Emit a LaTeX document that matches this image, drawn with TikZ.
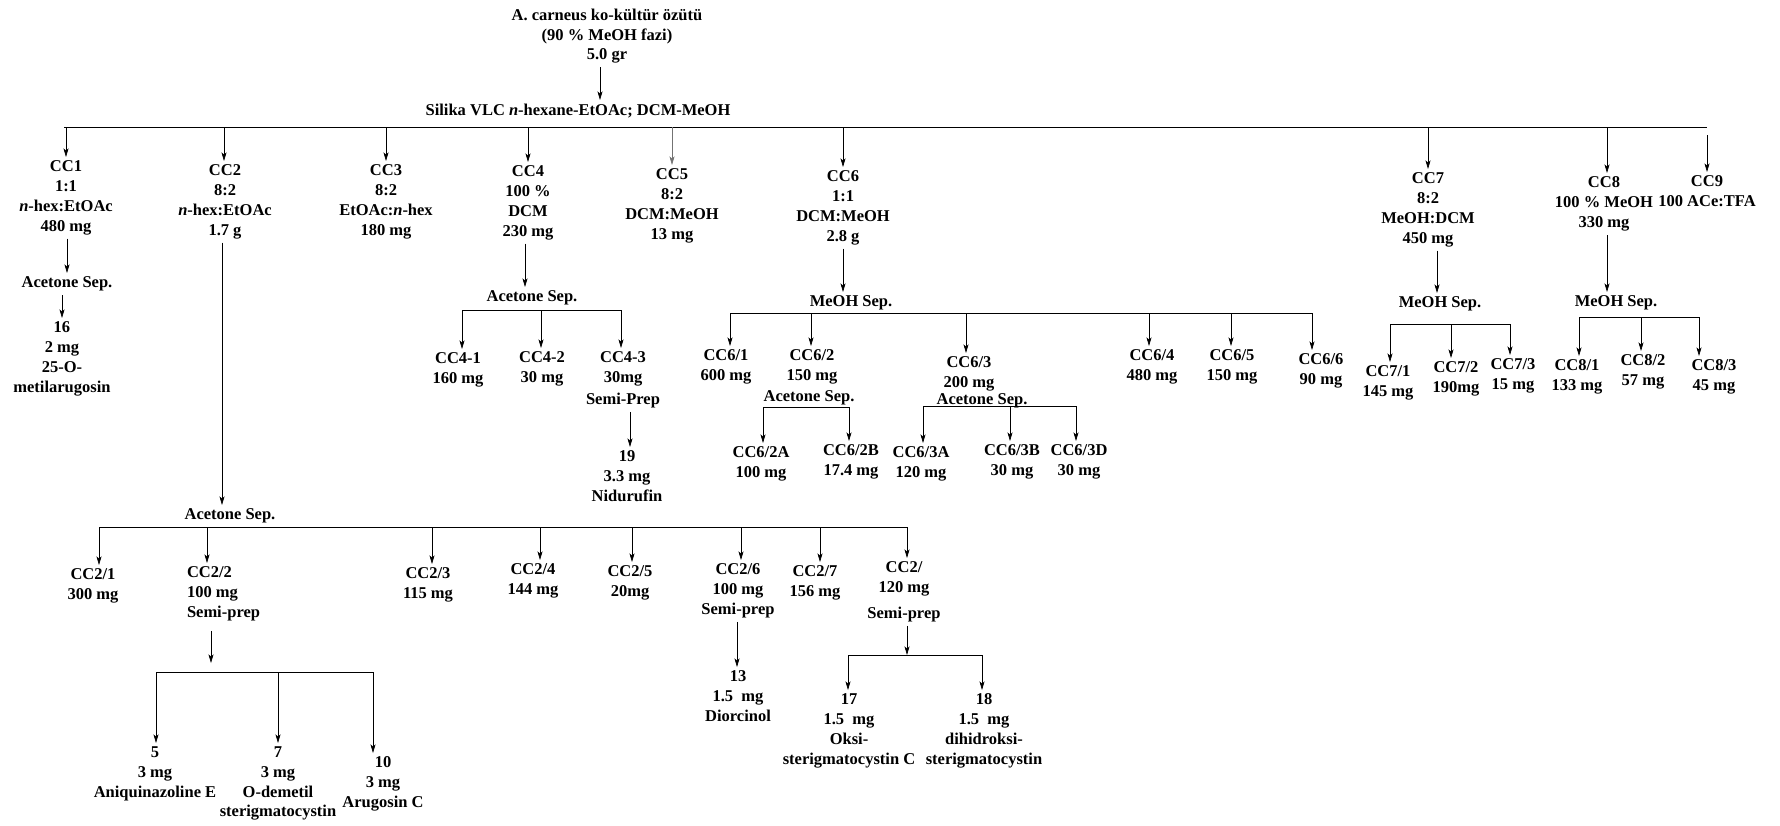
\documentclass[tikz,border=0pt]{standalone}
\usepackage{fontspec}
\setmainfont{Liberation Serif}
\usetikzlibrary{arrows.meta}

\begin{document}
\begin{tikzpicture}[x=1pt,y=-1pt,
    lbl/.style={font=\bfseries\fontsize{16.5}{19.7}\selectfont,align=center,inner sep=0pt,outer sep=4pt,anchor=north,yshift=10pt},
    arr/.style={-{Stealth[length=8.5pt,width=5pt,inset=2pt]},line width=0.7pt},
    bar/.style={line width=0.9pt}]
  \useasboundingbox (0,0) rectangle (1780,825);
  \node[lbl] (src) at (607,15) {A. carneus ko-kültür özütü\\(90 \% MeOH fazi)\\5.0 gr};
  \node[lbl] (vlc) at (578,110) {Silika VLC \textit{n}-hexane-EtOAc; DCM-MeOH};
  \draw[arr] (src.south -| 600,0) -- (600,0 |- vlc.north);
  \draw[bar] (64,127) -- (1707,127);
  % first column fractions
  \foreach \n/\x/\y/\ax/\t in {
      cc1/66/167/66/{CC1\\1:1\\\textit{n}-hex:EtOAc\\480 mg},
      cc2/225/171/224/{CC2\\8:2\\\textit{n}-hex:EtOAc\\1.7 g},
      cc3/386/171/386/{CC3\\8:2\\EtOAc:\textit{n}-hex\\180 mg},
      cc4/528/172/528/{CC4\\100 \%\\DCM\\230 mg},
      cc6/843/177/843/{CC6\\1:1\\DCM:MeOH\\2.8 g},
      cc7/1428/179/1428/{CC7\\8:2\\MeOH:DCM\\450 mg},
      cc8/1604/183/1607/{CC8\\100 \% MeOH\\330 mg}} {
    \node[lbl] (\n) at (\x,\y) {\t};
    \draw[arr] (\ax,127) -- (\ax,0 |- \n.north);
  }
  \node[lbl] (cc5) at (672,175) {CC5\\8:2\\DCM:MeOH\\13 mg};
  \draw[arr,black!55] (672,127) -- (672,0 |- cc5.north);
  \node[lbl] (cc9) at (1707,182) {CC9\\100 ACe:TFA};
  \draw[arr] (1707,135) -- (1707,0 |- cc9.north);
  % separation steps
  \foreach \a/\n/\x/\y/\ax/\t in {
      cc1/ac1/67/283/67/{Acetone Sep.},
      cc2/ac2/230/515/222/{Acetone Sep.},
      cc4/ac4/532/297/525/{Acetone Sep.},
      cc6/ms6/851/302/843/{MeOH Sep.},
      cc7/ms7/1440/303/1437/{MeOH Sep.},
      cc8/ms8/1616/302/1607/{MeOH Sep.}} {
    \node[lbl] (\n) at (\x,\y) {\t};
    \draw[arr] (\ax,0 |- \a.south) -- (\ax,0 |- \n.north);
  }
  \node[lbl] (c16) at (62,328) {16\\2 mg\\25-O-\\metilarugosin};
  \draw[arr] (62,0 |- ac1.south) -- (62,0 |- c16.north);
  % CC2
  \draw[bar] (99,527) -- (907,527);
  \foreach \n/\x/\y/\ax/\t in {
      c21/93/575/99/{CC2/1\\300 mg},
      c23/428/574/432/{CC2/3\\115 mg},
      c24/533/570/540/{CC2/4\\144 mg},
      c25/630/572/632/{CC2/5\\20mg},
      c26/738/570/741/{CC2/6\\100 mg\\Semi-prep},
      c27/815/572/820/{CC2/7\\156 mg},
      c28/904/568/907/{CC2/\\120 mg\\[6pt]Semi-prep}} {
    \node[lbl] (\n) at (\x,\y) {\t};
    \draw[arr] (\ax,527) -- (\ax,0 |- \n.north);
  }
  \node[lbl,align=left,anchor=north west] (c22) at (183,573) {CC2/2\\100 mg\\Semi-prep};
  \draw[arr] (207,527) -- (207,0 |- c22.north);
  \coordinate (b22) at (211,663);
  \draw[arr] ([yshift=-6pt]c22.south -| b22) -- (b22);
  \draw[bar] (156,672) -- (373,672);
  \foreach \n/\x/\y/\ax/\t in {
      c5/155/753/156/{5\\3 mg\\Aniquinazoline E},
      c7/278/753/278/{7\\3 mg\\O-demetil\\sterigmatocystin},
      c10/383/763/373/{10\\3 mg\\Arugosin C}} {
    \node[lbl] (\n) at (\x,\y) {\t};
    \draw[arr] (\ax,672) -- (\ax,0 |- \n.north);
  }
  \node[lbl] (c13) at (738,677) {13\\1.5~ mg\\Diorcinol};
  \draw[arr] (737,0 |- c26.south) -- (737,0 |- c13.north);
  \coordinate (b28) at (907,655);
  \draw[arr] (c28.south -| b28) -- (b28);
  \draw[bar] (848,655) -- (982,655);
  \foreach \n/\x/\y/\ax/\t in {
      c17/849/700/848/{17\\1.5~ mg\\Oksi-\\sterigmatocystin C},
      c18/984/700/982/{18\\1.5~ mg\\dihidroksi-\\sterigmatocystin}} {
    \node[lbl] (\n) at (\x,\y) {\t};
    \draw[arr] (\ax,655) -- (\ax,0 |- \n.north);
  }
  % CC4
  \draw[bar] (462,310) -- (621,310);
  \foreach \n/\x/\y/\ax/\t in {
      c41/458/359/462/{CC4-1\\160 mg},
      c42/542/358/541/{CC4-2\\30 mg},
      c43/623/358/621/{CC4-3\\30mg\\[2pt]Semi-Prep}} {
    \node[lbl] (\n) at (\x,\y) {\t};
    \draw[arr] (\ax,310) -- (\ax,0 |- \n.north);
  }
  \node[lbl] (c19) at (627,457) {19\\3.3 mg\\Nidurufin};
  \draw[arr] (630,0 |- c43.south) -- (630,0 |- c19.north);
  % CC6
  \draw[bar] (730,313) -- (1312,313);
  \foreach \n/\x/\y/\ax/\t in {
      c61/726/356/730/{CC6/1\\600 mg},
      c62/812/356/811/{CC6/2\\150 mg},
      c63/969/363/966/{CC6/3\\200 mg},
      c64/1152/356/1149/{CC6/4\\480 mg},
      c65/1232/356/1231/{CC6/5\\150 mg},
      c66/1321/360/1312/{CC6/6\\90 mg}} {
    \node[lbl] (\n) at (\x,\y) {\t};
    \draw[arr] (\ax,313) -- (\ax,0 |- \n.north);
  }
  \node[lbl] (a62) at (809,397) {Acetone Sep.};
  \node[lbl] (a63) at (982,400) {Acetone Sep.};
  \draw[bar] (763,407) -- (849,407);
  \draw[bar] (923,406) -- (1076,406);
  \foreach \n/\x/\y/\ax/\by/\t in {
      c62a/761/453/763/407/{CC6/2A\\100 mg},
      c62b/851/451/849/407/{CC6/2B\\17.4 mg},
      c63a/921/453/923/406/{CC6/3A\\120 mg},
      c63b/1012/451/1010/406/{CC6/3B\\30 mg},
      c63d/1079/451/1076/406/{CC6/3D\\30 mg}} {
    \node[lbl] (\n) at (\x,\y) {\t};
    \draw[arr] (\ax,\by) -- (\ax,0 |- \n.north);
  }
  % CC7 and CC8
  \draw[bar] (1390,324) -- (1510,324);
  \draw[bar] (1579,317) -- (1699,317);
  \foreach \n/\x/\y/\ax/\by/\t in {
      c71/1388/372/1390/324/{CC7/1\\145 mg},
      c72/1456/368/1451/324/{CC7/2\\190mg},
      c73/1513/365/1510/324/{CC7/3\\15 mg},
      c81/1577/366/1579/317/{CC8/1\\133 mg},
      c82/1643/361/1641/317/{CC8/2\\57 mg},
      c83/1714/366/1699/317/{CC8/3\\45 mg}} {
    \node[lbl] (\n) at (\x,\y) {\t};
    \draw[arr] (\ax,\by) -- (\ax,0 |- \n.north);
  }
\end{tikzpicture}
\end{document}
